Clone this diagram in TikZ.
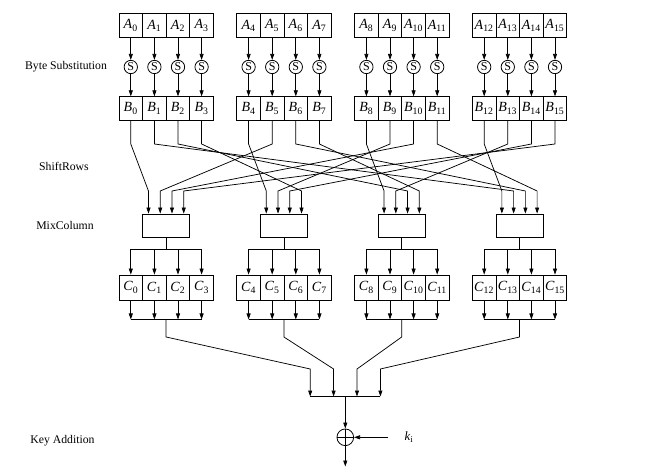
\documentclass[tikz,border=0pt]{standalone}
\usepackage{fontspec}
\setmainfont{Liberation Serif}
\usetikzlibrary{arrows.meta,calc}

\tikzset{
  cell/.style={draw, line width=0.6pt, minimum width=17.7pt, minimum height=17.6pt, inner sep=0pt, font=\fontsize{10.5}{11}\selectfont},
  sbox/.style={draw, circle, line width=0.6pt, minimum size=10pt, inner sep=0pt, font=\fontsize{9}{9}\selectfont},
  mixbox/.style={draw, line width=0.6pt, minimum width=35.25pt, minimum height=17.25pt, inner sep=0pt},
  wire/.style={line width=0.55pt},
  feed/.style={wire, -{Triangle[length=4.5pt,width=3pt]}},
  stage/.style={font=\fontsize{8.8}{10}\selectfont},
}

\begin{document}
\begin{tikzpicture}[x=0.75pt, y=-0.75pt]
\useasboundingbox (0,0) rectangle (657,470);

\node[stage] (bytesub) at (66,67) {Byte Substitution};
\node[stage] (shiftrows) at (64,166) {ShiftRows};
\node[stage] (mixcol) at (65,225) {MixColumn};
\node[stage] (keyadd) at (62.5,440.5) {Key Addition};

\coordinate (kink) at (0,144);
\coordinate (fan) at (0,191);
\coordinate (split) at (0,249.5);
\coordinate (join) at (0,319.5);
\coordinate (bend) at (0,337);
\coordinate (merge) at (0,369);
\coordinate (sum) at (345.3,396.5);
\coordinate (result) at (345.3,466.5);

\foreach \j in {0,...,15} {
  \pgfmathtruncatemacro{\g}{floor(\j/4)}
  \pgfmathtruncatemacro{\i}{mod(\j,4)}
  \pgfmathsetmacro{\xx}{130.8+117.8*\g+23.6*\i}
  \node[cell] (a\j) at (\xx,25.5) {\textit{A}\textsubscript{\j}};
  \node[sbox] (s\j) at (\xx,67) {S};
  \node[cell] (b\j) at (\xx,108.5) {\textit{B}\textsubscript{\j}};
  \node[cell, minimum height=18.75pt] (c\j) at (\xx,287.5) {\textit{C}\textsubscript{\j}};
  \draw[feed] (a\j) -- (s\j);
  \draw[feed] (s\j) -- (b\j);
}

\foreach \g in {0,...,3} {
  \pgfmathsetmacro{\xx}{166.1+117.8*\g}
  \pgfmathtruncatemacro{\lo}{4*\g}
  \pgfmathtruncatemacro{\hi}{4*\g+3}
  \node[mixbox] (mc\g) at (\xx,225.5) {};
  \foreach \r in {0,...,3}
    \coordinate (in\g\r) at ($(mc\g.north)+({(\r-1.5)*11.75},0)$);
  \coordinate (out\g) at ($(sum)+({(\g-1.5)*23.4},0)$);
  \draw[wire] (mc\g) -- (mc\g.south |- split);
  \draw[wire] (c\lo.north |- split) -- (c\hi.north |- split);
  \draw[wire] (c\lo.south |- join) -- (c\hi.south |- join);
  \foreach \j in {\lo,...,\hi} {
    \draw[feed] (c\j.north |- split) -- (c\j.north);
    \draw[feed] (c\j.south) -- (c\j.south |- join);
  }
}

\foreach \j in {0,...,15} {
  \pgfmathtruncatemacro{\r}{mod(\j,4)}
  \pgfmathtruncatemacro{\c}{mod(floor(\j/4)-\r+4,4)}
  \draw[feed] (b\j.south) -- (b\j.south |- kink) -- (in\c\r |- fan) -- (in\c\r);
}

\foreach \g in {0,...,3}
  \draw[feed] (mc\g.south |- join) -- (mc\g.south |- bend) -- (out\g |- merge) -- (out\g);
\draw[wire] (out0) -- (out3);

\node[draw, circle, line width=0.6pt, minimum size=12.5pt, inner sep=0pt] (xor) at (345.3,437.3) {};
\draw[wire] (xor.north) -- (xor.south) (xor.west) -- (xor.east);
\node[font=\fontsize{9.5}{10}\selectfont] (key) at (409,437.3) {\textit{k}\textsubscript{i}};
\draw[feed] (sum) -- (xor);
\draw[feed] (xor) -- (result);
\draw[feed, shorten <=9pt] (key.west) -- (xor);
\end{tikzpicture}
\end{document}
